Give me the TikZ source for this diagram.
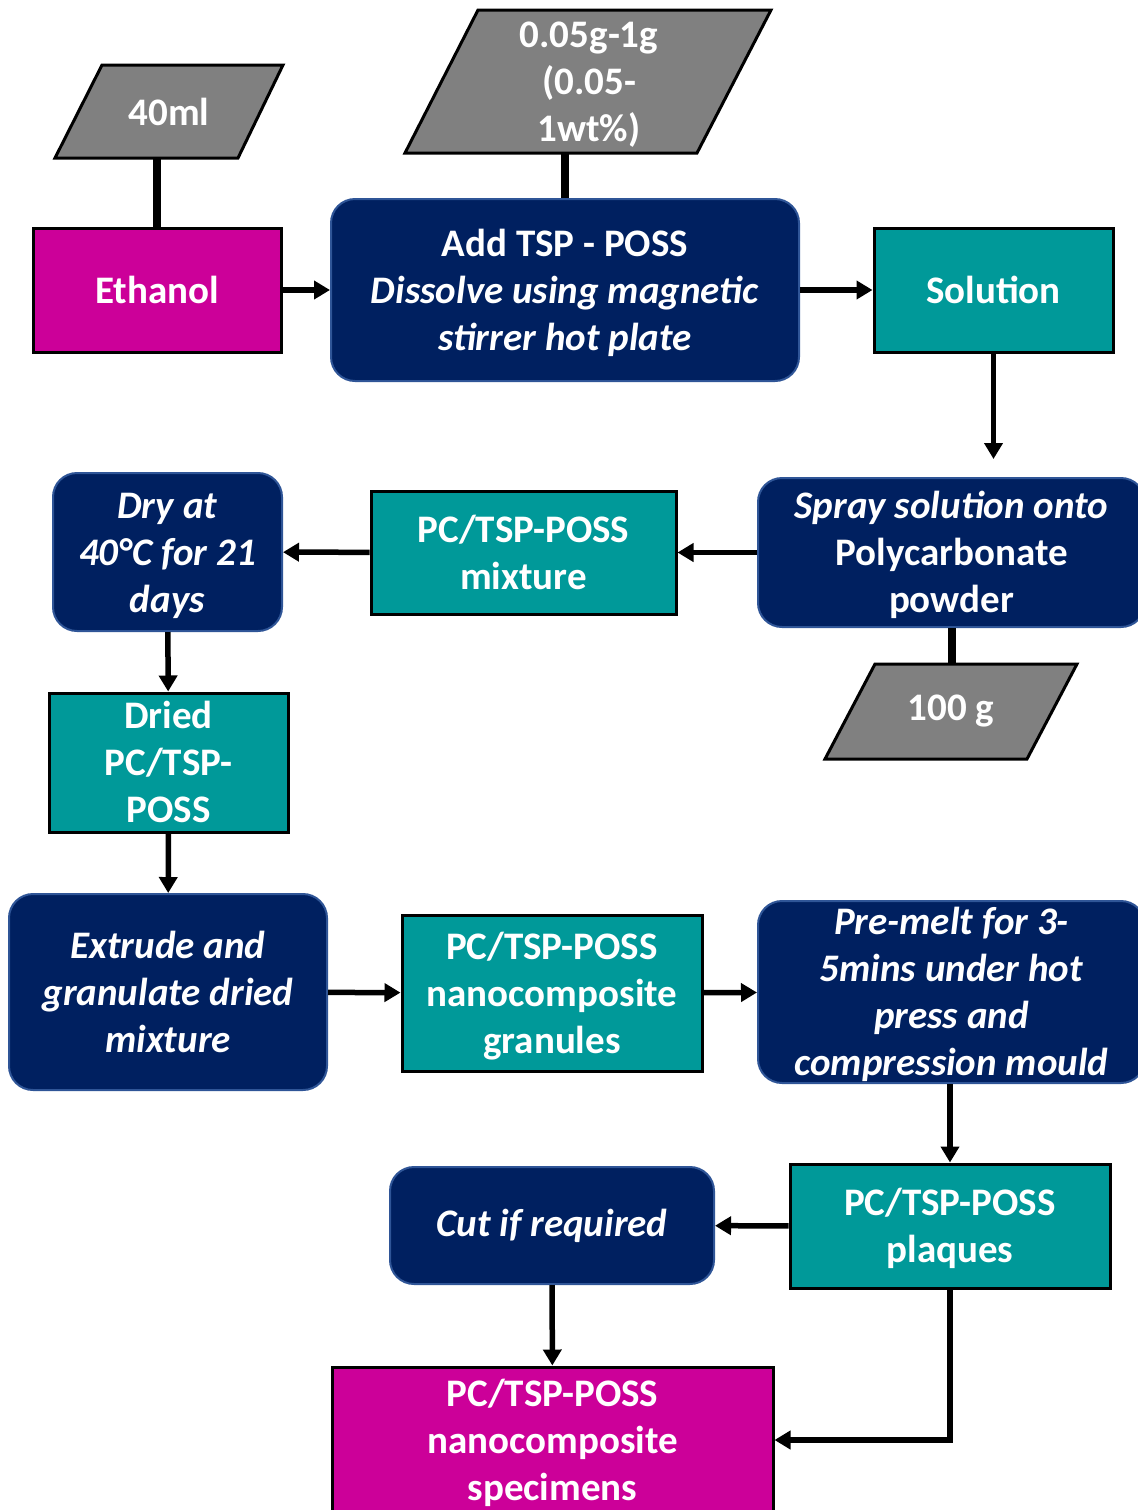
\documentclass[tikz,border=0pt]{standalone}
\usepackage{fontspec}
\setmainfont{Carlito}
\usetikzlibrary{arrows.meta}
\definecolor{mag}{HTML}{CC0099}
\definecolor{navy}{HTML}{002060}
\definecolor{navyedge}{HTML}{2F5597}
\definecolor{teal}{HTML}{009999}
\definecolor{grayp}{HTML}{808080}
\newcommand\mltext[1]{\raisebox{0pt}[\height][\dimexpr\depth-4pt\relax]{\begin{tabular}{@{}c@{}}#1\end{tabular}}}
\begin{document}
\begin{tikzpicture}[x=0.5pt,y=-0.5pt,
  base/.style={align=center, text=white, font=\fontsize{19.5}{23.5}\selectfont\bfseries, inner sep=0pt},
  sqbox/.style={base, draw=black, line width=1.5pt},
  magbox/.style={sqbox, fill=mag},
  tealbox/.style={sqbox, fill=teal},
  rbox/.style={base, draw=navyedge, fill=navy, line width=1pt, rounded corners=12pt},
  para/.style={fill=grayp, draw=black, line width=1.5pt},
  link/.style={line width=4pt},
  arr/.style={line width=2.75pt, -{Triangle[length=8pt,width=9pt]}},
]
\useasboundingbox (0,0) rectangle (1137,1510);

% parallelograms (input quantities)
\draw[para] (102,65) -- (283,65) -- (238,158) -- (55,158) -- cycle;
\node[base, minimum width=90pt, minimum height=46.5pt] (p40) at (169,111.5) {40ml};
\draw[para] (478,10) -- (771,10) -- (697,153) -- (405,153) -- cycle;
\node[base, minimum width=146pt, minimum height=71.5pt] (pw) at (589,81.5) {\mltext{0.05g-1g\\(0.05-\\1wt\%)}};
\draw[para] (875,664) -- (1077,664) -- (1027,759) -- (825,759) -- cycle;
\node[base, minimum width=100pt, minimum height=47.5pt] (p100) at (951,711.5) {100 g};

% process boxes
\node[magbox, minimum width=124pt, minimum height=62pt] (eth) at (157,290) {Ethanol};
\node[rbox, minimum width=234pt, minimum height=91pt] (add) at (565,290) {\mltext{Add TSP - POSS\\\textit{Dissolve using magnetic}\\\textit{stirrer hot plate}}};
\node[tealbox, minimum width=119.5pt, minimum height=62pt] (sol) at (993.5,290) {Solution};
\node[rbox, minimum width=193.5pt, minimum height=74.5pt] (spray) at (951.5,552.5) {\mltext{\textit{Spray solution onto}\\Polycarbonate\\powder}};
\node[tealbox, minimum width=152.5pt, minimum height=61.5pt] (mix) at (523.5,552.5) {\mltext{PC/TSP-POSS\\mixture}};
\node[rbox, minimum width=114.5pt, minimum height=79pt] (dry) at (167.5,552) {\mltext{\textit{Dry at}\\\textit{40°C for 21}\\\textit{days}}};
\node[tealbox, minimum width=119.5pt, minimum height=69.5pt] (dried) at (168.5,762.5) {\mltext{Dried\\PC/TSP-\\POSS}};
\node[rbox, minimum width=159pt, minimum height=98pt] (ext) at (168,992) {\mltext{\textit{Extrude and}\\\textit{granulate dried}\\\textit{mixture}}};
\node[tealbox, minimum width=150pt, minimum height=78pt] (gran) at (552,993) {\mltext{PC/TSP-POSS\\nanocomposite\\granules}};
\node[rbox, minimum width=193.5pt, minimum height=91pt] (pre) at (951.5,992) {\mltext{\textit{Pre-melt for 3-}\\\textit{5mins under hot}\\\textit{press and}\\\textit{compression mould}}};
\node[tealbox, minimum width=160pt, minimum height=62pt] (plq) at (950,1226) {\mltext{PC/TSP-POSS\\plaques}};
\node[rbox, minimum width=162pt, minimum height=58.5pt] (cut) at (552,1225.5) {\textit{Cut if required}};
\node[magbox, minimum width=220.5pt, minimum height=73pt] (spec) at (552.5,1440) {\mltext{PC/TSP-POSS\\nanocomposite\\specimens}};

% links from quantities
\draw[link] (p40.south -| eth.north) -- (eth.north);
\draw[link] (pw.south -| add.north) -- (add.north);
\draw[link] (spray.south) -- (spray.south |- p100.north);

% arrows
\draw[arr] (eth) -- (add);
\draw[arr] (add) -- (sol);
\draw[arr, shorten >=9pt] (sol.south) -- (sol.south |- spray.north);
\draw[arr] (spray) -- (mix);
\draw[arr] (mix) -- (dry);
\draw[arr] (dry) -- (dried);
\draw[arr] (dried) -- (ext);
\draw[arr] (ext) -- (gran);
\draw[arr] (gran) -- (pre);
\draw[arr] (pre.south -| plq.north) -- (plq.north);
\draw[arr] (plq) -- (cut);
\draw[arr] (cut) -- (spec);
\draw[arr] (plq.south) |- (spec.east);
\end{tikzpicture}
\end{document}
